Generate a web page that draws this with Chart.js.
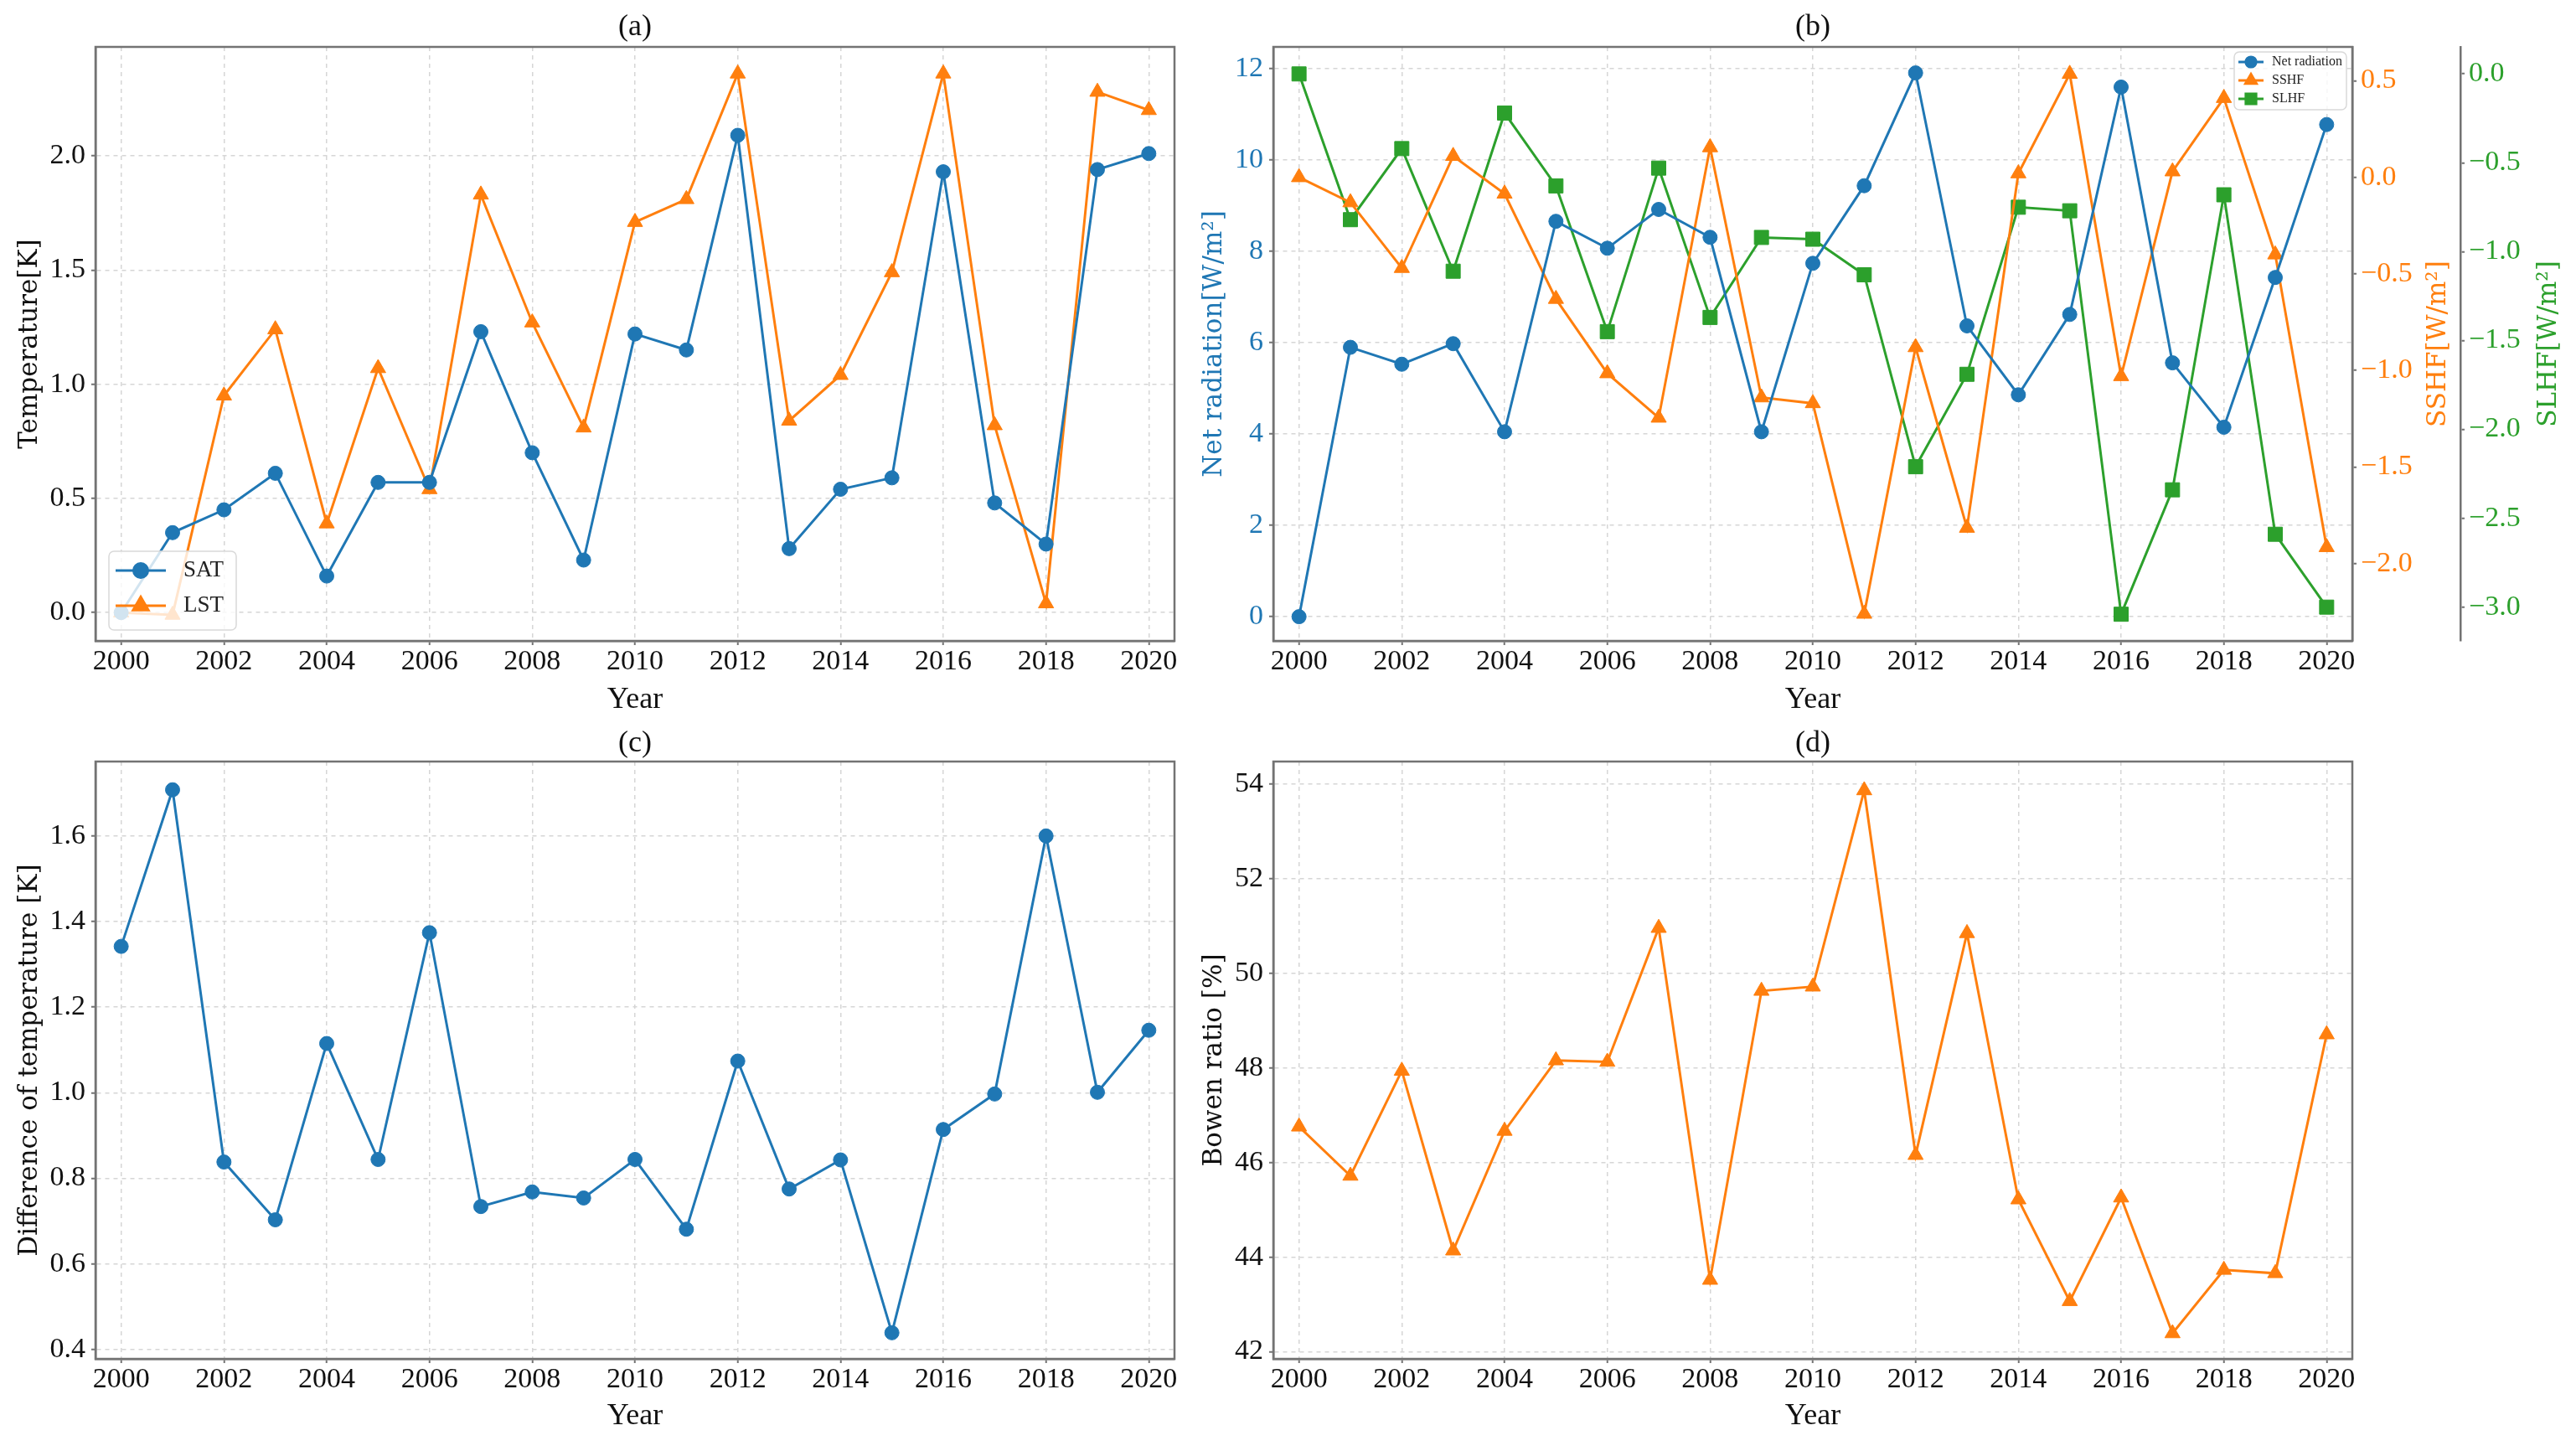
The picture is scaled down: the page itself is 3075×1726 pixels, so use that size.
<!DOCTYPE html>
<html>
<head>
<meta charset="utf-8">
<title>Annual anomalies 2000-2020</title>
<script src="https://cdn.jsdelivr.net/npm/chart.js@4.4.1/dist/chart.umd.min.js"></script>
<style>
  html, body { margin: 0; padding: 0; background: #fff; }
  body { width: 3075px; height: 1726px; position: relative; overflow: hidden; }
  canvas { position: absolute; }
</style>
</head>
<body>
<canvas id="chartA" width="1420" height="860" style="left:0;top:0"></canvas>
<canvas id="chartB" width="1655" height="860" style="left:1420px;top:0"></canvas>
<canvas id="chartC" width="1420" height="866" style="left:0;top:860px"></canvas>
<canvas id="chartD" width="1655" height="866" style="left:1420px;top:860px"></canvas>
<script>
const years = [2000, 2001, 2002, 2003, 2004, 2005, 2006, 2007, 2008, 2009, 2010,
               2011, 2012, 2013, 2014, 2015, 2016, 2017, 2018, 2019, 2020];
const yearTicks = [2000, 2002, 2004, 2006, 2008, 2010, 2012, 2014, 2016, 2018, 2020];

// (a) temperature
const satValues = [0.00, 0.35, 0.45, 0.61, 0.16, 0.57, 0.57, 1.23, 0.70, 0.23, 1.22,
                   1.15, 2.09, 0.28, 0.54, 0.59, 1.93, 0.48, 0.30, 1.94, 2.01];
const lstValues = [0.00, -0.01, 0.95, 1.24, 0.39, 1.07, 0.54, 1.83, 1.27, 0.81, 1.71,
                   1.81, 2.36, 0.84, 1.04, 1.49, 2.36, 0.82, 0.04, 2.28, 2.20];
const tempTicks = [0.0, 0.5, 1.0, 1.5, 2.0];

// (b) energy fluxes
const netRadiation = [0.00, 5.90, 5.53, 5.98, 4.05, 8.66, 8.07, 8.92, 8.31, 4.05, 7.74,
                      9.44, 11.91, 6.37, 4.86, 6.62, 11.60, 5.56, 4.15, 7.43, 10.78];
const sshfValues = [0.00, -0.13, -0.47, 0.11, -0.085, -0.63, -1.015, -1.245, 0.155, -1.14, -1.17,
                    -2.26, -0.88, -1.815, 0.02, 0.535, -1.03, 0.03, 0.41, -0.40, -1.915];
const slhfValues = [0.00, -0.82, -0.42, -1.11, -0.22, -0.63, -1.45, -0.53, -1.37, -0.92, -0.93,
                    -1.13, -2.21, -1.69, -0.75, -0.77, -3.04, -2.34, -0.68, -2.59, -3.00];
const netTicks = [0, 2, 4, 6, 8, 10, 12];
const sshfTicks = [-2.0, -1.5, -1.0, -0.5, 0.0, 0.5];
const slhfTicks = [-3.0, -2.5, -2.0, -1.5, -1.0, -0.5, 0.0];

// (c) LST - SAT
const tempDiff = [1.342, 1.708, 0.838, 0.703, 1.115, 0.844, 1.374, 0.734, 0.768, 0.754, 0.844,
                  0.681, 1.074, 0.775, 0.843, 0.439, 0.914, 0.997, 1.600, 1.001, 1.146];
const diffTicks = [0.4, 0.6, 0.8, 1.0, 1.2, 1.4, 1.6];

// (d) Bowen ratio
const bowenRatio = [46.76, 45.72, 47.94, 44.14, 46.67, 48.16, 48.13, 50.96, 43.52, 49.63, 49.72,
                    53.87, 46.16, 50.85, 45.22, 43.07, 45.26, 42.39, 43.73, 43.66, 48.71];
const bowenTicks = [42, 44, 46, 48, 50, 52, 54];

const BLUE = '#1f77b4', ORANGE = '#ff7f0e', GREEN = '#2ca02c';
const SPINE = '#737373';
const GRID = '#d6d6d6';
const INK = '#111';

Chart.defaults.font.family = '"Liberation Serif", "Times New Roman", serif';
Chart.defaults.color = INK;

function toPoints(values) {
    return years.map((yr, i) => ({ x: yr, y: values[i] }));
}

function fixedTicks(list) {
    return scale => { scale.ticks = list.map(v => ({ value: v })); };
}

function fmt(digits) {
    return v => Number(v).toFixed(digits).replace('-', '\u2212');
}

function series(label, values, color, style, radius, axis) {
    return {
        label: label,
        data: toPoints(values),
        yAxisID: axis || 'y',
        borderColor: color,
        backgroundColor: color,
        borderWidth: 3,
        pointStyle: style,
        pointRadius: radius,
        pointHoverRadius: radius,
        pointBorderWidth: 1,
        tension: 0
    };
}

function xAxis(height, titlePad) {
    return {
        type: 'linear',
        position: 'bottom',
        min: 1999.5,
        max: 2020.5,
        bounds: 'data',
        afterBuildTicks: fixedTicks(yearTicks),
        afterFit: s => { s.height = height; },
        ticks: { callback: v => String(v), padding: 0, maxRotation: 0, autoSkip: false, font: { size: 34 }, color: INK },
        grid: { color: GRID, lineWidth: 1.5, tickLength: 5, tickColor: SPINE, tickWidth: 2 },
        border: { display: true, color: SPINE, width: 2.5, dash: [5, 5] },
        title: { display: true, text: 'Year', color: INK, font: { size: 36 }, padding: { top: 0, bottom: titlePad } }
    };
}

function yAxis(o) {
    return {
        type: 'linear',
        position: o.position || 'left',
        weight: o.weight || 0,
        min: o.min,
        max: o.max,
        bounds: 'data',
        afterBuildTicks: fixedTicks(o.ticks),
        afterFit: s => { s.width = o.width; },
        ticks: { callback: fmt(o.digits), padding: o.tickPad || 7, font: { size: 34 }, color: o.color || INK },
        grid: { drawOnChartArea: o.onArea !== false, color: GRID, lineWidth: 1.5, tickLength: 5, tickColor: SPINE, tickWidth: 2 },
        border: { display: true, color: SPINE, width: 2.5, dash: [5, 5] },
        title: o.title
            ? { display: true, text: o.title, color: o.color || INK, font: { family: '"DejaVu Serif", serif', size: 31 }, padding: { top: o.titlePad, bottom: 0 } }
            : { display: false }
    };
}

function drawLegend(chart, cfg) {
    const { ctx, chartArea: a } = chart;
    const x = cfg.corner === 'lowerLeft' ? a.left + cfg.dx : a.right - cfg.dx - cfg.w;
    const y = cfg.corner === 'lowerLeft' ? a.bottom - cfg.dy - cfg.h : a.top + cfg.dy;
    ctx.save();
    ctx.beginPath();
    ctx.roundRect(x, y, cfg.w, cfg.h, 6);
    ctx.fillStyle = 'rgba(255,255,255,0.8)';
    ctx.fill();
    ctx.strokeStyle = '#d9d9d9';
    ctx.lineWidth = 1.5;
    ctx.stroke();
    chart.data.datasets.forEach((ds, i) => {
        const rowY = y + cfg.row0 + i * cfg.rowGap;
        const x0 = x + cfg.line[0], x1 = x + cfg.line[1];
        ctx.strokeStyle = ds.borderColor;
        ctx.lineWidth = ds.borderWidth;
        ctx.beginPath();
        ctx.moveTo(x0, rowY);
        ctx.lineTo(x1, rowY);
        ctx.stroke();
        ctx.fillStyle = ds.backgroundColor;
        Chart.helpers.drawPoint(ctx, { pointStyle: ds.pointStyle, rotation: 0, radius: ds.pointRadius * cfg.markerScale, borderWidth: 1 }, (x0 + x1) / 2, rowY);
        ctx.fillStyle = '#222';
        ctx.font = cfg.fontSize + 'px "Liberation Serif"';
        ctx.textAlign = 'left';
        ctx.textBaseline = 'middle';
        ctx.fillText(ds.label, x + cfg.textX, rowY);
    });
    ctx.restore();
}

// frame, legend, panel title and the right-hand axis titles
const panelDecor = {
    id: 'panelDecor',
    afterDatasetsDraw(chart, args, opts) {
        const { ctx, chartArea: a } = chart;
        ctx.save();
        ctx.strokeStyle = SPINE;
        ctx.lineWidth = 2.5;
        ctx.strokeRect(a.left, a.top, a.right - a.left, a.bottom - a.top);
        ctx.restore();
        if (opts.legend) drawLegend(chart, opts.legend);
    },
    afterDraw(chart, args, opts) {
        const { ctx, chartArea: a } = chart;
        ctx.save();
        ctx.fillStyle = INK;
        ctx.font = '36px "Liberation Serif"';
        ctx.textAlign = 'center';
        ctx.textBaseline = 'middle';
        ctx.fillText(opts.title, (a.left + a.right) / 2, a.top - opts.titleGap);
        (opts.sideTitles || []).forEach(t => {
            const s = chart.scales[t.axis];
            ctx.save();
            ctx.translate(s.left + t.dx, (a.top + a.bottom) / 2);
            ctx.rotate(-Math.PI / 2);
            ctx.fillStyle = t.color;
            ctx.font = '31px "DejaVu Serif"';
            ctx.fillText(t.text, 0, 0);
            ctx.restore();
        });
        ctx.restore();
    }
};

function makeChart(id, datasets, scales, padding, decor) {
    return new Chart(document.getElementById(id), {
        type: 'line',
        data: { datasets: datasets },
        options: {
            responsive: false,
            animation: false,
            devicePixelRatio: 1,
            layout: { autoPadding: false, padding: padding },
            scales: scales,
            plugins: {
                legend: { display: false },
                tooltip: { enabled: false },
                panelDecor: decor
            }
        },
        plugins: [panelDecor]
    });
}

makeChart('chartA',
    [series('SAT', satValues, BLUE, 'circle', 8.5),
     series('LST', lstValues, ORANGE, 'triangle', 10.5)],
    {
        x: xAxis(95, 2.4),
        y: yAxis({ min: -0.124, max: 2.477, ticks: tempTicks, digits: 1, width: 114, title: 'Temperature[K]', titlePad: 17.4 })
    },
    { top: 56, right: 18, left: 0, bottom: 0 },
    {
        title: '(a)', titleGap: 23,
        legend: { corner: 'lowerLeft', dx: 16, dy: 13, w: 152, h: 94, row0: 23, rowGap: 42, line: [8, 68], textX: 89, fontSize: 27, markerScale: 1 }
    });

makeChart('chartB',
    [series('Net radiation', netRadiation, BLUE, 'circle', 8.5, 'y'),
     series('SSHF', sshfValues, ORANGE, 'triangle', 10.5, 'y1'),
     series('SLHF', slhfValues, GREEN, 'rect', 12, 'y2')],
    {
        x: xAxis(95, 2.4),
        y: yAxis({ min: -0.53, max: 12.48, ticks: netTicks, digits: 0, width: 100, color: BLUE, title: 'Net radiation[W/m²]', titlePad: 11.4 }),
        y1: yAxis({ position: 'right', weight: 0, min: -2.40, max: 0.675, ticks: sshfTicks, digits: 1, width: 129, color: ORANGE, onArea: false, tickPad: 5 }),
        y2: yAxis({ position: 'right', weight: 1, min: -3.19, max: 0.152, ticks: slhfTicks, digits: 1, width: 138, color: GREEN, onArea: false, tickPad: 5 })
    },
    { top: 56, right: 0, left: 0, bottom: 0 },
    {
        title: '(b)', titleGap: 23,
        legend: { corner: 'upperRight', dx: 7, dy: 6, w: 134, h: 69, row0: 12, rowGap: 22, line: [5, 35], textX: 45, fontSize: 16, markerScale: 0.72 },
        sideTitles: [
            { axis: 'y1', dx: 103, text: 'SSHF[W/m²]', color: ORANGE },
            { axis: 'y2', dx: 106, text: 'SLHF[W/m²]', color: GREEN }
        ]
    });

makeChart('chartC',
    [series('Difference', tempDiff, BLUE, 'circle', 8.5)],
    {
        x: xAxis(104, 13.4),
        y: yAxis({ min: 0.378, max: 1.774, ticks: diffTicks, digits: 1, width: 114, title: 'Difference of temperature [K]', titlePad: 17.4 })
    },
    { top: 49, right: 18, left: 0, bottom: 0 },
    { title: '(c)', titleGap: 21 });

makeChart('chartD',
    [series('Bowen ratio', bowenRatio, ORANGE, 'triangle', 10.5)],
    {
        x: xAxis(104, 13.4),
        y: yAxis({ min: 41.85, max: 54.48, ticks: bowenTicks, digits: 0, width: 100, title: 'Bowen ratio [%]', titlePad: 11.4 })
    },
    { top: 49, right: 267, left: 0, bottom: 0 },
    { title: '(d)', titleGap: 21 });
</script>
</body>
</html>
